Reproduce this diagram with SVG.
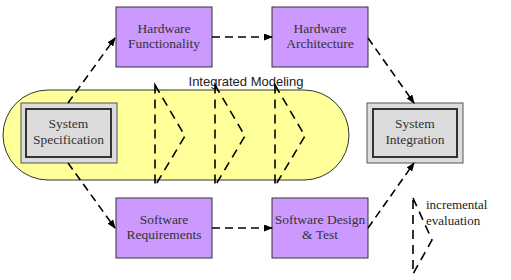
<svg xmlns="http://www.w3.org/2000/svg" width="511" height="280" viewBox="0 0 511 280">
<style>
.cap{fill:#ffff99;stroke:#333;stroke-width:1}
.pb{fill:#cc99ff;stroke:#333;stroke-width:1}
.go{fill:#dcdcdc;stroke:#555;stroke-width:1}
.gi{fill:#dcdcdc;stroke:#333;stroke-width:2}
.t{font-family:"Liberation Serif",serif;font-size:13.5px;fill:#333;text-anchor:middle}
.ts{font-family:"Liberation Sans",sans-serif;font-size:13px;fill:#222;text-anchor:middle}
.tl{font-family:"Liberation Serif",serif;font-size:13px;fill:#222}
.d{fill:none;stroke:#000;stroke-width:1.6;stroke-dasharray:8,5}
.cv{fill:none;stroke:#000;stroke-width:1.6;stroke-dasharray:9,6;stroke-linejoin:miter}
</style>
<defs>
<marker id="ah" markerWidth="9" markerHeight="7" refX="8" refY="3.5" orient="auto" markerUnits="userSpaceOnUse">
<path d="M0,0 L9,3.5 L0,7 Z" fill="#000"/>
</marker>
</defs>
<g id="integrated-modeling">
<rect class="cap" x="3" y="90" width="346" height="90" rx="45" ry="45"/>
<text class="ts" x="246" y="86">Integrated Modeling</text>
<path class="cv" d="M155,85 L185,136 L155,186 Z"/>
<path class="cv" d="M215,85 L245,136 L215,186 Z"/>
<path class="cv" d="M275,85 L305,136 L275,186 Z"/>
</g>
<g id="system-specification">
<rect class="go" x="21" y="103" width="96" height="60"/>
<rect class="gi" x="26" y="109" width="85" height="48"/>
<text class="t" x="68.5" y="128">System</text>
<text class="t" x="68.5" y="144">Specification</text>
</g>
<g id="hardware-functionality">
<rect class="pb" x="116" y="7" width="96" height="60"/>
<text class="t" x="164" y="33">Hardware</text>
<text class="t" x="164" y="48">Functionality</text>
</g>
<g id="hardware-architecture">
<rect class="pb" x="272" y="7" width="96" height="60"/>
<text class="t" x="320" y="33">Hardware</text>
<text class="t" x="320" y="48">Architecture</text>
</g>
<g id="software-requirements">
<rect class="pb" x="116" y="198" width="96" height="60"/>
<text class="t" x="164" y="224">Software</text>
<text class="t" x="164" y="239">Requirements</text>
</g>
<g id="software-design-test">
<rect class="pb" x="272" y="198" width="96" height="60"/>
<text class="t" x="320" y="224">Software Design</text>
<text class="t" x="320" y="239">&amp; Test</text>
</g>
<g id="system-integration">
<rect class="go" x="367" y="103" width="96" height="60"/>
<rect class="gi" x="373" y="109" width="84" height="48"/>
<text class="t" x="415" y="128">System</text>
<text class="t" x="415" y="144">Integration</text>
</g>
<g id="connectors">
<line class="d" x1="68" y1="103" x2="115" y2="38" marker-end="url(#ah)"/>
<line class="d" x1="68" y1="163" x2="115" y2="228" marker-end="url(#ah)"/>
<line class="d" x1="212" y1="37" x2="272" y2="37" marker-end="url(#ah)"/>
<line class="d" x1="212" y1="228" x2="272" y2="228" marker-end="url(#ah)"/>
<line class="d" x1="368" y1="38" x2="414" y2="103" marker-end="url(#ah)"/>
<line class="d" x1="368" y1="228" x2="414" y2="163" marker-end="url(#ah)"/>
</g>
<g id="legend">
<path class="cv" d="M413,198 L432,240 L413,274 Z"/>
<text class="tl" x="426" y="209">incremental</text>
<text class="tl" x="426" y="225">evaluation</text>
</g>
</svg>
